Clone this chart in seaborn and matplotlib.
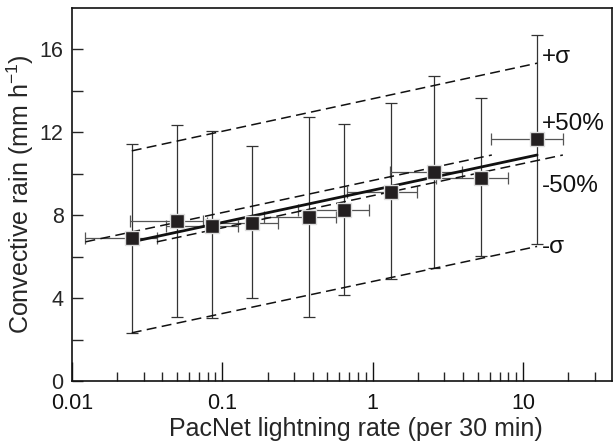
import seaborn as sns
import numpy as np
import matplotlib.pyplot as plt
import matplotlib.ticker as mticker
import pandas as pd

# binned points
rate = [0.025, 0.050, 0.085, 0.157, 0.38, 0.64, 1.33, 2.57, 5.28, 12.4]
rain = [6.9, 7.7, 7.5, 7.65, 7.9, 8.25, 9.1, 10.1, 9.8, 11.65]
rain_hi = [11.42, 12.34, 12.06, 11.34, 12.74, 12.4, 13.4, 14.7, 13.63, 16.7]
rain_lo = [2.34, 3.1, 3.06, 4.0, 3.1, 4.16, 4.95, 5.48, 6.03, 6.61]
rate_lo = [0.0123, 0.0245, 0.042, 0.079, 0.19, 0.32, 0.67, 1.3, 2.64, 6.1]
rate_hi = [0.0367, 0.074, 0.127, 0.235, 0.57, 0.95, 1.97, 3.9, 7.9, 18.4]

# fit line and envelopes (end points)
fit_rate = [0.025, 12.4]
fit_rain = [6.72, 10.9]
plus_sigma = [11.1, 15.32]
minus_sigma = [2.34, 6.5]
plus50_rate = [0.0123, 6.2]
minus50_rate = [0.0367, 18.4]

labels = ["+σ", "+50%", "-50%", "-σ"]
label_y = [15.6, 12.4, 9.4, 6.45]


def create_diagram():
    sns.set_theme(style="ticks")
    plt.rcParams['font.family'] = ['Liberation Sans', 'DejaVu Sans']

    data = pd.DataFrame({"rate": rate, "rain": rain})
    fig = plt.figure(figsize=(6.15, 4.43), dpi=100)
    ax = fig.add_axes([0.117, 0.139, 0.878, 0.844])
    ax.set_xscale("log")

    r = np.array(rate)
    y = np.array(rain)
    yerr = [y - np.array(rain_lo), np.array(rain_hi) - y]
    xerr = [r - np.array(rate_lo), np.array(rate_hi) - r]
    ax.errorbar(r, y, yerr=yerr, fmt="none", ecolor="#333333", elinewidth=0.9,
                capsize=4, capthick=0.9, zorder=2)
    ax.errorbar(r, y, xerr=xerr, fmt="none", ecolor="#555555", elinewidth=0.9,
                capsize=4, capthick=0.9, zorder=2)

    dash = (6.5, 3.5)
    sns.lineplot(x=fit_rate, y=fit_rain, color="#111111", linewidth=2.0, ax=ax, zorder=3)
    for xs, ys in [(fit_rate, plus_sigma), (fit_rate, minus_sigma),
                   (plus50_rate, fit_rain), (minus50_rate, fit_rain)]:
        sns.lineplot(x=xs, y=ys, color="#111111", linewidth=1.1, ax=ax, zorder=3,
                     dashes=False).lines[-1].set_dashes(dash)

    sns.scatterplot(data=data, x="rate", y="rain", marker="s", s=105,
                    color="#231f20", edgecolor="#dddddd", linewidth=1.0, ax=ax, zorder=4)

    for lab, ly in zip(labels, label_y):
        ax.text(13.4, ly, lab, fontsize=17.5, ha="left", va="center", color="#111111")

    ax.set_xlim(0.01, 39)
    ax.set_ylim(0, 18)
    ax.xaxis.set_major_locator(mticker.FixedLocator([0.01, 0.1, 1, 10]))
    ax.xaxis.set_major_formatter(mticker.FixedFormatter(["0.01", "0.1", "1", "10"]))
    ax.xaxis.set_minor_locator(mticker.LogLocator(base=10, subs=np.arange(2, 10), numticks=20))
    ax.xaxis.set_minor_formatter(mticker.NullFormatter())
    ax.set_yticks([0, 4, 8, 12, 16])
    ax.yaxis.set_minor_locator(mticker.FixedLocator([2, 6, 10, 14]))

    ax.tick_params(axis="x", which="major", direction="in", length=14, width=1.0,
                   labelsize=15.5, pad=8.5, colors="#111111")
    ax.tick_params(axis="x", which="minor", direction="in", length=6.5, width=1.0)
    ax.tick_params(axis="y", which="both", direction="in", length=8, width=1.0,
                   labelsize=15.5, pad=6)

    for sp in ax.spines.values():
        sp.set_visible(True)
        sp.set_linewidth(1.2)
        sp.set_color("#111111")

    ax.set_xlabel("PacNet lightning rate (per 30 min)", fontsize=18)
    ax.xaxis.set_label_coords(0.525, -0.095)
    ax.set_ylabel("Convective rain (mm h$^{\\mathregular{-1}}$)", fontsize=18, labelpad=3)
    if ax.get_legend() is not None:
        ax.get_legend().remove()

    fig.savefig("out.png", dpi=100)


if __name__ == '__main__':
    create_diagram()
